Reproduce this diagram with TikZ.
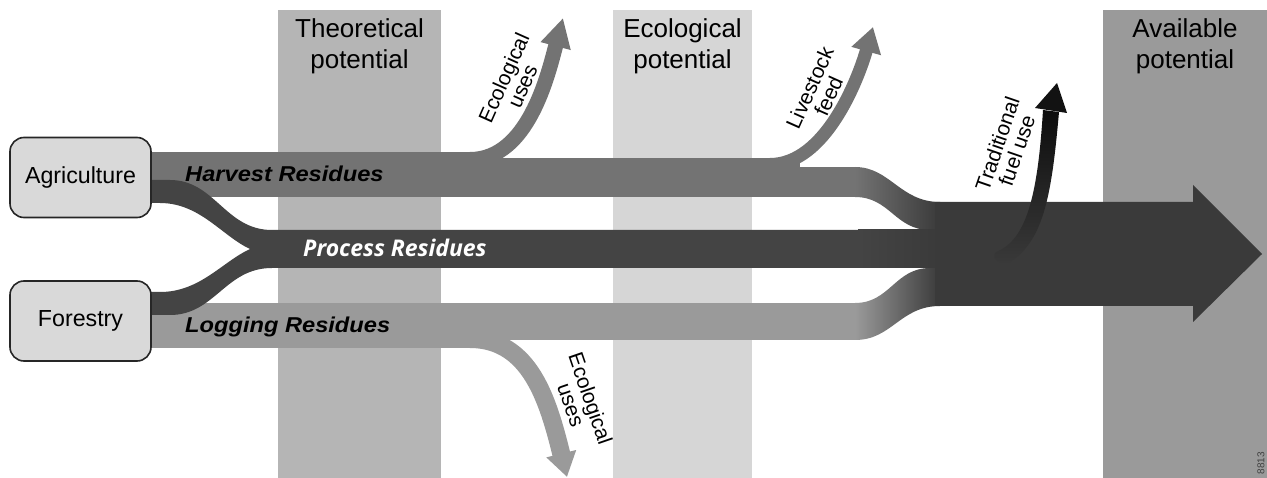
\documentclass[tikz,border=0pt]{standalone}
\usepackage{graphicx}
\usepackage{fontspec}
\setmainfont{Liberation Sans}
\newfontfamily\procfont{Open Sans}
\usetikzlibrary{arrows.meta}
\definecolor{theo}{HTML}{B5B5B5}
\definecolor{ecol}{HTML}{D6D6D6}
\definecolor{avail}{HTML}{9A9A9A}
\definecolor{harv}{HTML}{737373}
\definecolor{proc}{HTML}{444444}
\definecolor{logg}{HTML}{9A9A9A}
\definecolor{bigc}{HTML}{3A3A3A}
\definecolor{boxfill}{HTML}{D9D9D9}
\definecolor{boxline}{HTML}{262626}
\begin{document}
\begin{tikzpicture}[x=1pt,y=-1pt,
  head/.style={anchor=north, inner sep=0pt, align=center, font=\fontsize{26}{31}\selectfont},
  srcbox/.style={draw=boxline, line width=1.6pt, fill=boxfill, rounded corners=14pt,
     minimum width=141pt, minimum height=80pt, inner sep=0pt, font=\fontsize{23.2}{26}\selectfont},
  sidelab/.style={inner sep=0pt, align=center, font=\fontsize{21}{20.5}\selectfont},
  bandlab/.style={anchor=base west, inner sep=0pt, font=\fontsize{21.5}{24}\selectfont\bfseries\itshape}]
\useasboundingbox (0,0) rectangle (1267,478);
\fill[white] (0,0) rectangle (1267,478);

% columns
\fill[theo] (278,10) rectangle (441,478);
\fill[ecol] (613,10) rectangle (752,478);
\fill[avail] (1103,10) rectangle (1267,478);
\node[head] (theoL) at (359.5,18) {Theoretical\\potential};
\node[head] (ecolL) at (682.5,18) {Ecological\\potential};
\node[head] (availL) at (1185,18) {Available\\potential};

% harvest residues band
\fill[harv] (151,152) rectangle (500,160);
\fill[harv] (151,158) rectangle (800,168);
\fill[harv] (151,167) rectangle (857,197);
\draw[harv, line width=15pt, -{Triangle[length=29pt,width=29pt]}]
  (470,159.5) .. controls (528,159.5) and (548,75) .. (563,18);
\draw[harv, line width=13pt, -{Triangle[length=25pt,width=29pt]}]
  (770,164.5) .. controls (825,164.5) and (858,80) .. (873,27);
\shade[left color=harv, right color=bigc]
  (855,167) .. controls (890,167) and (900,202) .. (940,202) -- (940,230) -- (930,230)
  .. controls (895,230) and (890,197) .. (855,197) -- cycle;

% logging residues band
\fill[logg] (151,303) rectangle (857,340);
\fill[logg] (151,339) rectangle (500,348);
\draw[logg, line width=18pt, -{Triangle[length=24pt,width=29pt]}]
  (470,339) .. controls (530,339) and (548,400) .. (567,477);
\shade[left color=logg, right color=bigc]
  (855,303) .. controls (890,303) and (895,268) .. (930,268) -- (940,268) -- (940,306)
  .. controls (900,306) and (892,340) .. (855,340) -- cycle;

% process residues band
\fill[proc] (151,180) -- (170,180) .. controls (215,180) and (225,230) .. (272,230)
  -- (860,230) -- (860,268) -- (272,268) .. controls (225,268) and (215,315) .. (170,315)
  -- (151,315) -- (151,292) -- (160,292) .. controls (200,292) and (222,262) .. (250,249)
  .. controls (222,236) and (200,203) .. (160,203) -- (151,203) -- cycle;
\shade[left color=proc, right color=bigc] (858,230) rectangle (940,268);

% available arrow
\fill[bigc] (935,202) -- (1193,202) -- (1193,185) -- (1262,254) -- (1193,322)
  -- (1193,306) -- (935,306) -- cycle;

% traditional fuel use
\shade[top color=black!95, middle color=black!92, bottom color=bigc]
  (996,252) .. controls (1028,240) and (1038,190) .. (1043,110) -- (1059,112)
  .. controls (1052,190) and (1045,240) .. (1010,262)
  .. controls (1000,266) and (990,258) .. (996,252) -- cycle;
\fill[black!93] (1035,108) -- (1057,83) -- (1067,113) -- cycle;

% source boxes
\node[srcbox] (agri) at (80.5,177.5) {Agriculture};
\node[srcbox] (fore) at (80.5,321) {Forestry};

% band labels
\node[bandlab] (harvL) at (185,182) {\scalebox{1.1}[1]{Harvest Residues}};
\node[bandlab] (loggL) at (185,333) {\scalebox{1.1}[1]{Logging Residues}};
\node[anchor=base west, inner sep=0pt, text=white,
  font=\procfont\fontsize{23}{24}\selectfont\bfseries\itshape] (procL) at (303,257) {Process Residues};

% side labels
\node[sidelab, rotate=66] (ecoTopL) at (513,82) {Ecological\\uses};
\node[sidelab, rotate=66] (liveL) at (819,92) {Livestock\\feed};
\node[sidelab, rotate=71] (tradL) at (1007,147) {Traditional\\fuel use};
\node[sidelab, rotate=-71] (ecoBotL) at (581,402) {Ecological\\uses};

\node[rotate=90, inner sep=0pt, text=black!75, font=\fontsize{10}{10}\selectfont] (code) at (1261,463) {8813};
\end{tikzpicture}
\end{document}
